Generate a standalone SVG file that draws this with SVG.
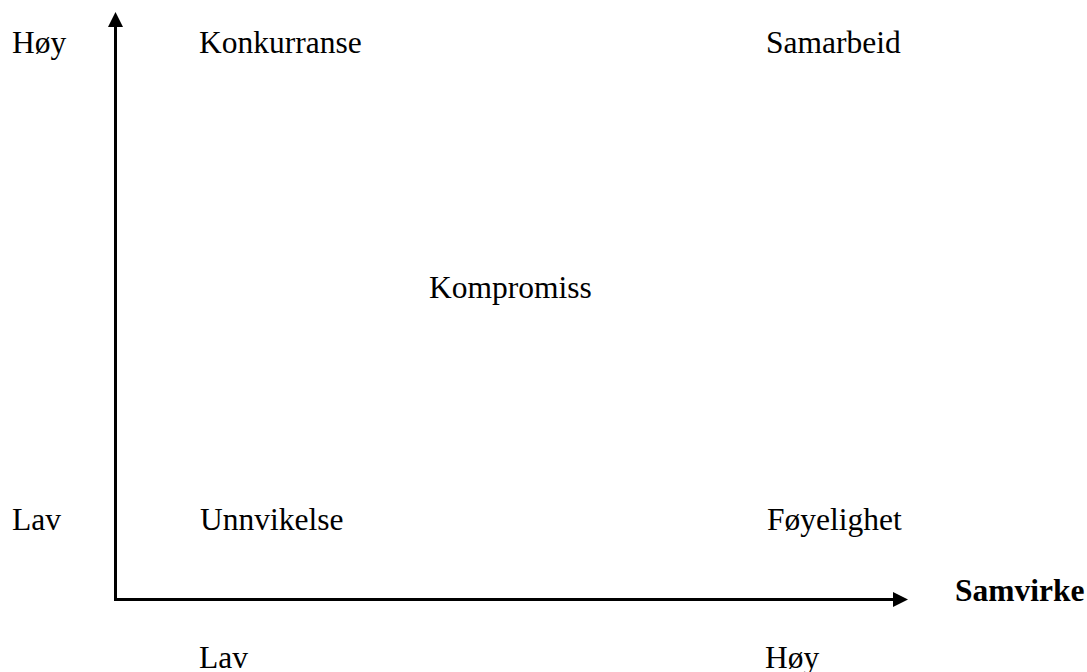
<svg xmlns="http://www.w3.org/2000/svg" width="1087" height="672" viewBox="0 0 1087 672">
  <style>
    .lbl { font-family: "Liberation Serif", "Times New Roman", serif; font-size: 31.5px; fill: #000; }
    .bold { font-weight: bold; }
    .axis { stroke: #000; stroke-width: 3; fill: none; }
  </style>
  <defs>
    <marker id="arrow" viewBox="0 0 15 15" refX="0" refY="7.5" markerWidth="15" markerHeight="15" markerUnits="userSpaceOnUse" orient="auto">
      <path d="M0,0 L15,7.5 L0,15 Z" fill="#000"/>
    </marker>
  </defs>
  <rect width="1087" height="672" fill="#fff"/>

  <!-- axes -->
  <g id="connectors">
    <polyline class="axis" points="115.5,27 115.5,599.5 893,599.5" marker-end="url(#arrow)"/>
    <path d="M108,27 L115.5,12 L123,27 Z" fill="#000"/>
  </g>

  <!-- axis level labels -->
  <g id="axis-labels">
    <text class="lbl" x="12" y="53">Høy</text>
    <text class="lbl" x="12" y="530">Lav</text>
    <text class="lbl" x="199" y="668">Lav</text>
    <text class="lbl" x="765" y="668">Høy</text>
    <text class="lbl bold" x="955" y="601">Samvirke</text>
  </g>

  <!-- conflict styles -->
  <g id="konkurranse"><text class="lbl" x="199" y="53">Konkurranse</text></g>
  <g id="samarbeid"><text class="lbl" x="766" y="53">Samarbeid</text></g>
  <g id="kompromiss"><text class="lbl" x="429" y="298">Kompromiss</text></g>
  <g id="unnvikelse"><text class="lbl" x="200" y="530">Unnvikelse</text></g>
  <g id="foyelighet"><text class="lbl" x="767" y="530">Føyelighet</text></g>
</svg>
